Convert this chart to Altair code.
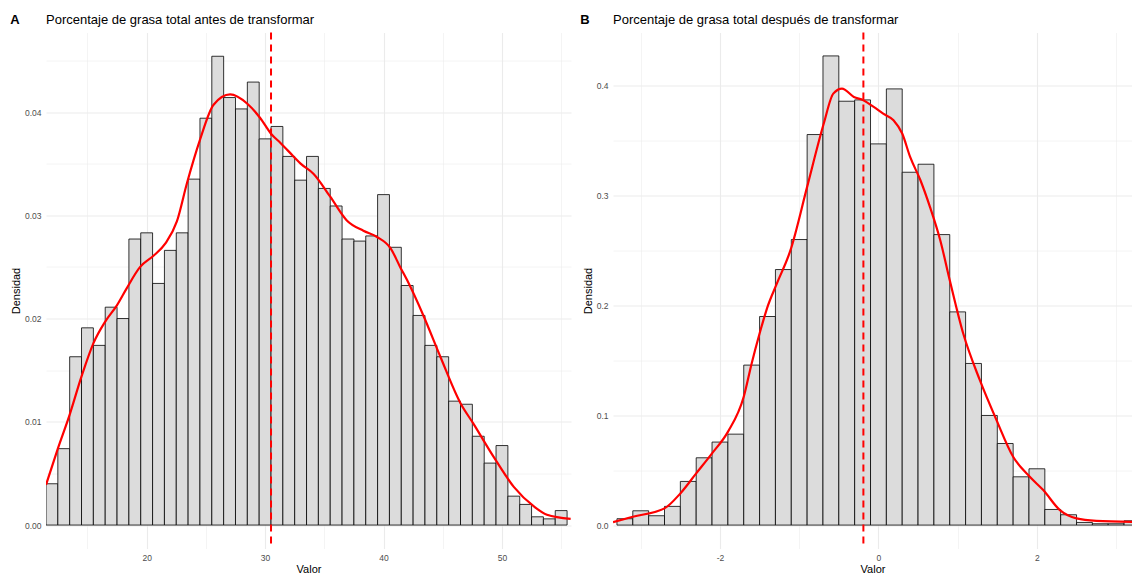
import altair as alt
import pandas as pd

FONT = "Liberation Sans"

# ---- Panel A: body fat percentage, raw scale (bin width 1) ----
left_bin_centers = [12, 13, 14, 15, 16, 17, 18, 19, 20, 21, 22, 23, 24, 25, 26,
                    27, 28, 29, 30, 31, 32, 33, 34, 35, 36, 37, 38, 39, 40, 41,
                    42, 43, 44, 45, 46, 47, 48, 49, 50, 51, 52, 53, 54, 55]
left_density = [0.0040, 0.0074, 0.0163, 0.0191, 0.0174, 0.0211, 0.0200, 0.0277,
                0.0283, 0.0234, 0.0266, 0.0283, 0.0335, 0.0394, 0.0454, 0.0414,
                0.0403, 0.0429, 0.0374, 0.0386, 0.0357, 0.0334, 0.0357, 0.0326,
                0.0309, 0.0277, 0.0275, 0.0280, 0.0320, 0.0269, 0.0232, 0.0203,
                0.0174, 0.0163, 0.0120, 0.0117, 0.0086, 0.0060, 0.0077, 0.0028,
                0.0020, 0.0008, 0.0006, 0.0014]
left_binwidth = 1.0
left_kde_x = [11.5, 12.5, 13.5, 14.5, 15.5, 16.5, 17.5, 18.3, 19.45, 20.6, 21.6,
              22.55, 23.4, 24.5, 25.65, 27.05, 28.5, 29.6, 30.5, 31.3, 32.4, 33.0,
              34.1, 35.5, 36.9, 38.3, 39.45, 40.6, 41.4, 42.0, 43.4, 44.8, 46.5,
              47.6, 49.3, 51.0, 52.7, 53.8, 55.8]
left_kde_y = [0.0039, 0.0074, 0.0107, 0.0144, 0.0176, 0.0197, 0.0213, 0.0229,
              0.0250, 0.0261, 0.0273, 0.0294, 0.0331, 0.0373, 0.0407, 0.0417,
              0.0408, 0.0394, 0.0379, 0.0370, 0.0357, 0.0350, 0.0340, 0.0318,
              0.0295, 0.0285, 0.0279, 0.0268, 0.0250, 0.0237, 0.0202, 0.0163,
              0.0118, 0.0098, 0.0066, 0.0037, 0.0018, 0.0010, 0.0006]
left_mean = 30.5
left_x_ticks = [15, 20, 25, 30, 35, 40, 45, 50, 55]
left_y_ticks = [0.0, 0.005, 0.01, 0.015, 0.02, 0.025, 0.03, 0.035, 0.04, 0.045]

# ---- Panel B: after transformation (bin width 0.2) ----
right_bin_centers = [-3.2, -3.0, -2.8, -2.6, -2.4, -2.2, -2.0, -1.8, -1.6, -1.4,
                     -1.2, -1.0, -0.8, -0.6, -0.4, -0.2, 0.0, 0.2, 0.4, 0.6, 0.8,
                     1.0, 1.2, 1.4, 1.6, 1.8, 2.0, 2.2, 2.4, 2.6, 2.8, 3.0, 3.2]
right_density = [0.0058, 0.0130, 0.0085, 0.0170, 0.0397, 0.0612, 0.0755, 0.0827,
                 0.1455, 0.1897, 0.2324, 0.2597, 0.3552, 0.4267, 0.3855, 0.3867,
                 0.3467, 0.3967, 0.3209, 0.3282, 0.2642, 0.1939, 0.1470, 0.0997,
                 0.0742, 0.0439, 0.0512, 0.0142, 0.0094, 0.0024, 0.0012, 0.0012,
                 0.0039]
right_binwidth = 0.2
right_kde_x = [-3.35, -3.1, -2.7, -2.5, -2.3, -2.1, -1.9, -1.7, -1.6, -1.5, -1.4,
               -1.28, -1.11, -0.9, -0.69, -0.57, -0.46, -0.31, -0.19, -0.06, 0.06,
               0.19, 0.3, 0.4, 0.53, 0.65, 0.78, 0.9, 1.07, 1.28, 1.49, 1.7, 1.91,
               2.08, 2.29, 2.5, 2.75, 3.2]
right_kde_y = [0.0027, 0.0076, 0.0152, 0.0288, 0.0470, 0.0652, 0.0848, 0.1167,
               0.1470, 0.1742, 0.1985, 0.2200, 0.2500, 0.3076, 0.3652, 0.3924,
               0.3970, 0.3894, 0.3864, 0.3803, 0.3742, 0.3682, 0.3561, 0.3348,
               0.3136, 0.2894, 0.2591, 0.2227, 0.1742, 0.1318, 0.0955, 0.0621,
               0.0439, 0.0318, 0.0136, 0.0061, 0.0039, 0.0030]
right_mean = -0.19
right_x_ticks = [-3, -2, -1, 0, 1, 2, 3]
right_y_ticks = [0.0, 0.05, 0.1, 0.15, 0.2, 0.25, 0.3, 0.35, 0.4]

H = 516
GRID = "#EBEBEB"
LABEL = "#4D4D4D"


def make_axis(values, major_test, label_expr, title, label_pad, title_pad):
    return alt.Axis(
        values=values,
        labelExpr=label_expr,
        title=title,
        grid=True,
        gridColor=GRID,
        gridWidth={"condition": {"test": major_test, "value": 1.1}, "value": 0.55},
        domain=False,
        ticks=False,
        labelFont=FONT,
        labelFontSize=8.5,
        labelColor=LABEL,
        labelPadding=label_pad,
        titleFont=FONT,
        titleFontSize=11,
        titleFontWeight="normal",
        titleColor="black",
        titlePadding=title_pad,
    )


def panel(letter, title, centers, dens, bw, kx, ky, mean, xdom, ydom,
          xticks, yticks, x_major, y_major, y_fmt, width, letter_dx):
    bars = pd.DataFrame({
        "lo": [c - bw / 2 for c in centers],
        "hi": [c + bw / 2 for c in centers],
        "d": dens,
    })
    kde = pd.DataFrame({"v": kx, "d": ky})

    xs = alt.Scale(domain=xdom, nice=False, zero=False)
    ys = alt.Scale(domain=ydom, nice=False, zero=False)
    xa = make_axis(xticks, x_major, f"{x_major} ? ('' + datum.value) : ''",
                   "Valor", 4.5, 2)
    ya = make_axis(yticks, y_major,
                   f"{y_major} ? format(datum.value, '{y_fmt}') : ''",
                   "Densidad", 5, 3)

    hist = alt.Chart(bars).mark_bar(
        fill="#DCDCDC", stroke="black", strokeWidth=0.8, clip=True
    ).encode(
        x=alt.X("lo:Q", scale=xs, axis=xa),
        x2="hi:Q",
        y=alt.Y("d:Q", scale=ys, axis=ya),
        y2=alt.datum(0),
    )

    curve = alt.Chart(kde).mark_line(
        color="#FF0000", strokeWidth=2.2, interpolate="monotone", clip=True
    ).encode(
        x=alt.X("v:Q", scale=xs, axis=xa),
        y=alt.Y("d:Q", scale=ys, axis=ya),
    )

    mean_rule = alt.Chart(pd.DataFrame({"m": [mean]})).mark_rule(
        color="#FF0000", strokeWidth=2, strokeDash=[7, 5]
    ).encode(
        x=alt.X("m:Q", scale=xs, axis=xa),
        y=alt.value(0),
        y2=alt.value(H),
    )

    # panel tag (bold letter) and panel title, placed above the plot area
    heading = pd.DataFrame({"t": [letter, title],
                            "kind": ["tag", "title"]})
    tag = alt.Chart(heading).transform_filter("datum.kind === 'tag'").mark_text(
        font=FONT, fontSize=13, fontWeight="bold", color="black",
        align="center", baseline="middle"
    ).encode(text="t:N", x=alt.value(letter_dx), y=alt.value(-13))
    head = alt.Chart(heading).transform_filter("datum.kind === 'title'").mark_text(
        font=FONT, fontSize=13, fontWeight="normal", color="black",
        align="left", baseline="middle"
    ).encode(text="t:N", x=alt.value(0), y=alt.value(-13))

    return alt.layer(hist, curve, mean_rule, tag, head).properties(
        width=width,
        height=H,
    )


left = panel(
    "A", "Porcentaje de grasa total antes de transformar",
    left_bin_centers, left_density, left_binwidth, left_kde_x, left_kde_y,
    left_mean, [11.5, 55.83], [-0.00227, 0.0477], left_x_ticks, left_y_ticks,
    "datum.value % 10 === 0",
    "abs(datum.value * 100 - round(datum.value * 100)) < 1e-6",
    ".2f", 525, -31,
)

right = panel(
    "B", "Porcentaje de grasa total después de transformar",
    right_bin_centers, right_density, right_binwidth, right_kde_x, right_kde_y,
    right_mean, [-3.35, 3.2], [-0.0213, 0.448], right_x_ticks, right_y_ticks,
    "datum.value % 2 === 0",
    "abs(datum.value * 10 - round(datum.value * 10)) < 1e-6",
    ".1f", 519, -28,
)

chart = alt.hconcat(left, right, spacing=9).properties(
    padding={"left": 10, "top": 13.5, "right": 0, "bottom": 0},
    background="white",
).configure_view(stroke=None)

chart.save("out.html", embed_options={"renderer": "svg", "actions": False})
